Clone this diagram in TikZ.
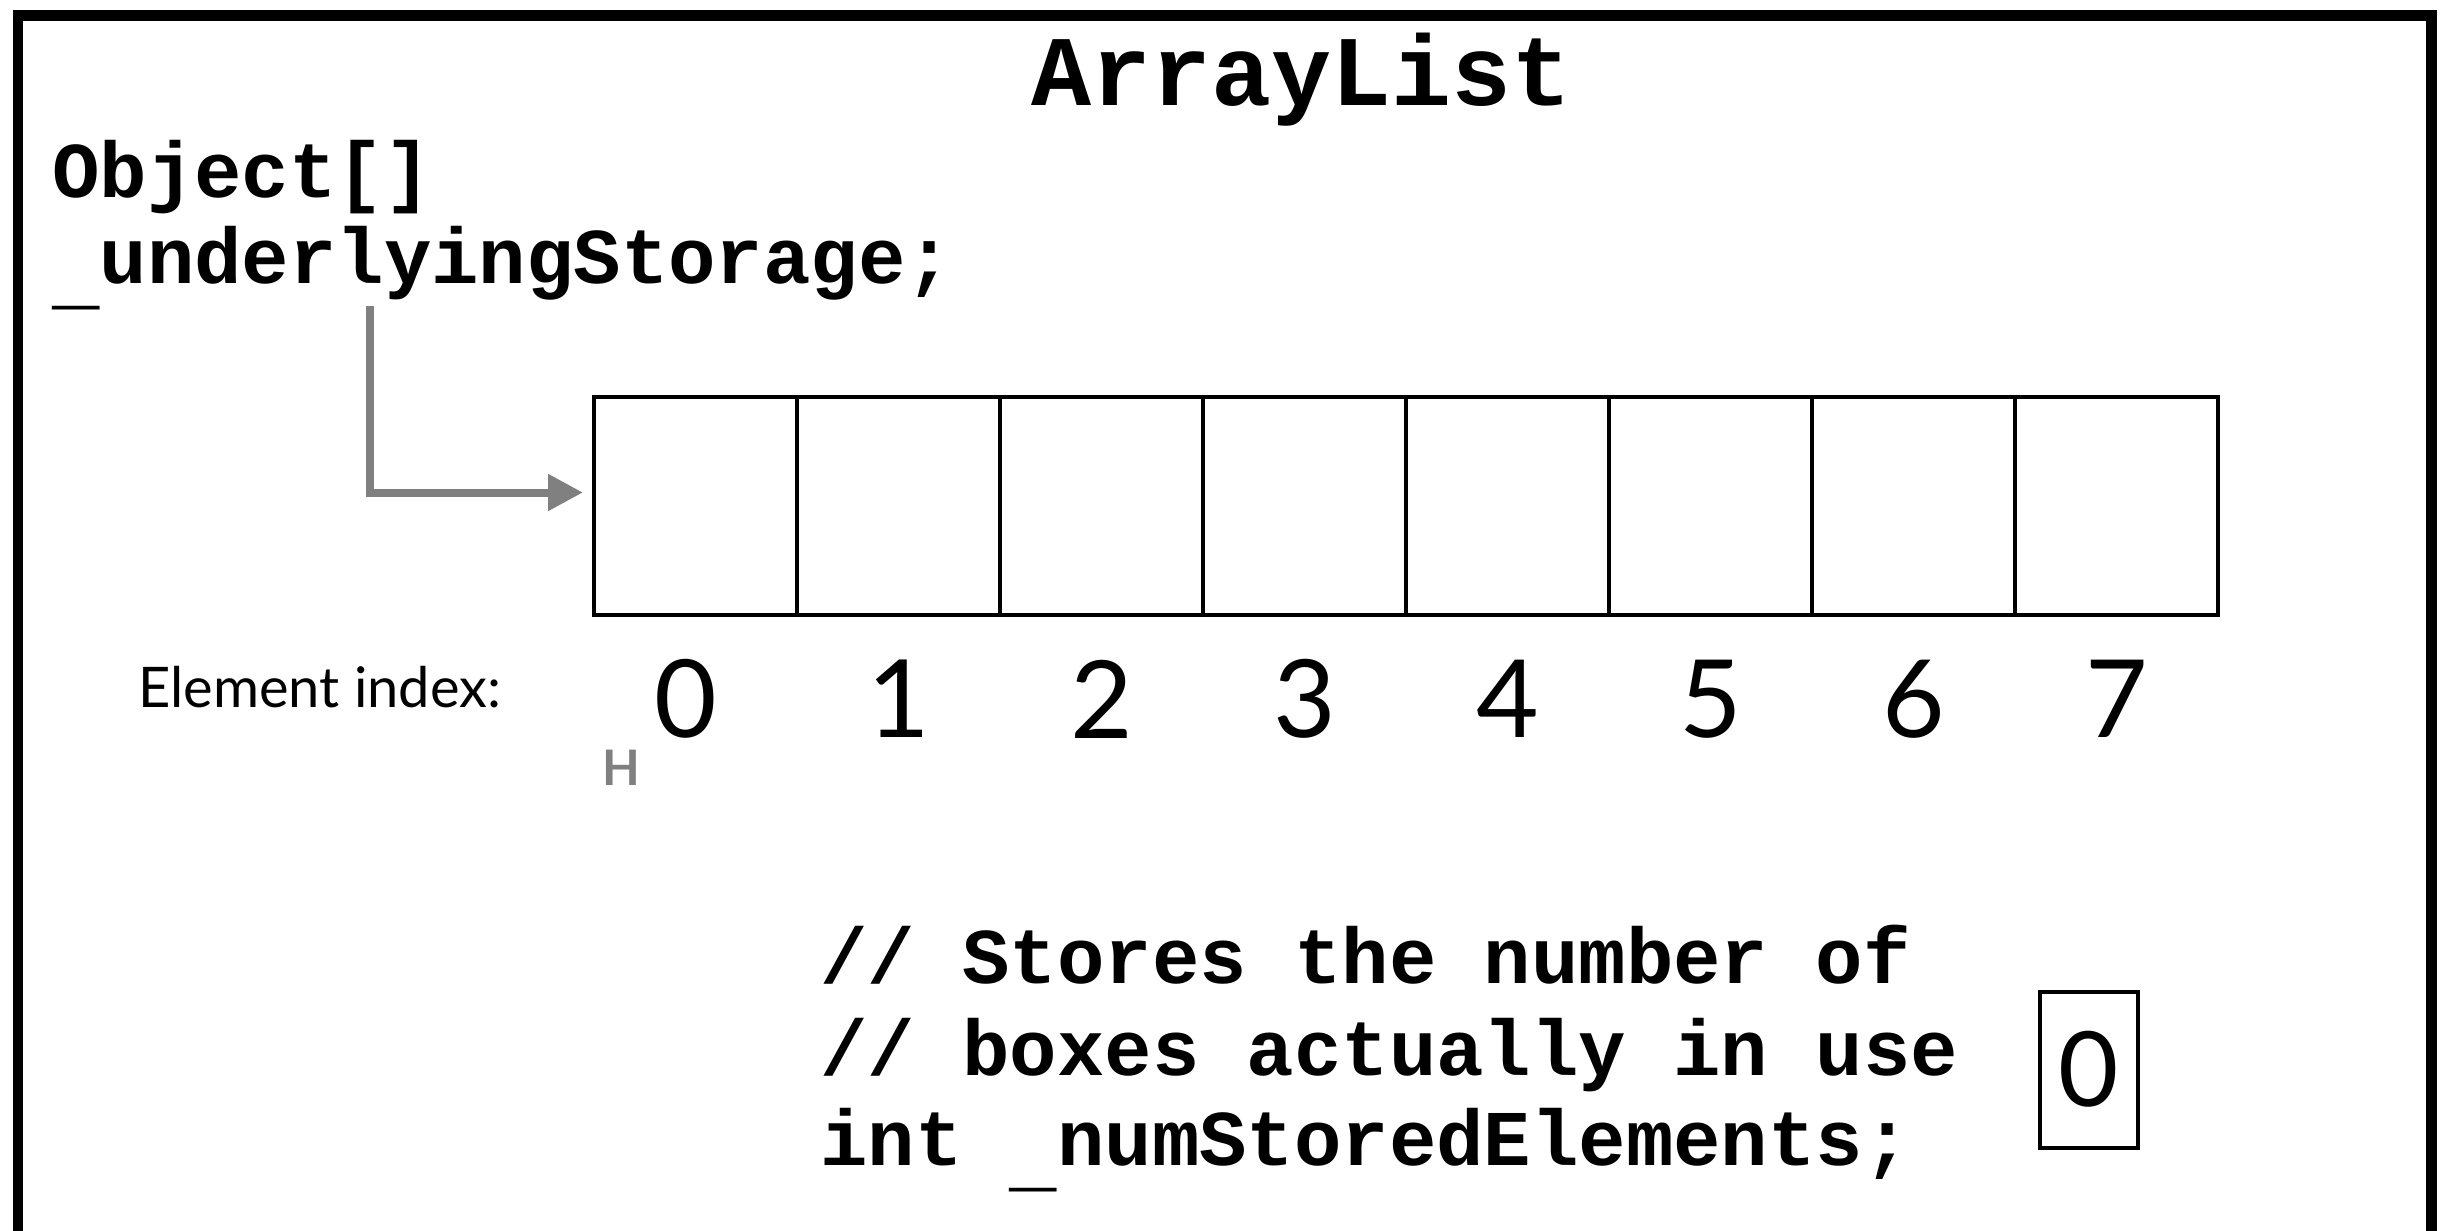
\documentclass[tikz,border=0pt]{standalone}
\usepackage{fontspec}
\usetikzlibrary{arrows.meta}
\newfontfamily\codefont{Liberation Mono}
\newfontfamily\gillfont{Lato}
\definecolor{arrowgray}{HTML}{808080}
\newcommand{\lowbar}{\raisebox{-18pt}{\_}}
\tikzset{
  codetext/.style={anchor=base west, inner sep=0pt, font=\codefont\bfseries\fontsize{79}{91}\selectfont},
  titletext/.style={anchor=base, inner sep=0pt, font=\codefont\bfseries\fontsize{100}{100}\selectfont},
  cellbox/.style={draw=black, line width=4pt, minimum width=203pt, minimum height=218pt, inner sep=0pt},
  digit/.style={inner sep=0pt, font=\gillfont\fontsize{108}{108}\selectfont},
  labeltext/.style={anchor=base west, inner sep=0pt, font=\gillfont\fontsize{56}{56}\selectfont},
  hmark/.style={inner sep=0pt, text=arrowgray, font=\gillfont\bfseries\fontsize{49}{49}\selectfont},
  countbox/.style={draw=black, line width=4pt, minimum width=97.7pt, minimum height=156pt, inner sep=0pt, font=\gillfont\fontsize{104}{104}\selectfont},
  pointer/.style={draw=arrowgray, line width=8pt, -{Triangle[length=35pt,width=35pt]}}
}
\begin{document}
\begin{tikzpicture}[x=1pt,y=-1pt]
\useasboundingbox (0,0) rectangle (2442,1231);
\fill[white] (0,0) rectangle (2442,1231);
% outer frame (open at the bottom)
\draw[line width=10.5pt] (18,1245) -- (18,15.3) -- (2431.7,15.3) -- (2431.7,1245);
% title
\node[titletext] (title) at (1302,106) {ArrayList};
% field declaration
\node[codetext] (objtype) at (52,197) {Object[]};
\node[codetext] (storage) at (52,283) {\lowbar underlyingStorage;};
% array cells
\foreach \i in {0,...,7} {
  \node[cellbox] (c\i) at ({695.5+203*\i},506) {};
}
\node[digit] (d0) at (686,699) {0};
\foreach \i in {1,...,7} {
  \node[digit] (d\i) at ({695.5+203*\i},699) {\i};
}
\node[labeltext] (idxlabel) at (138,707) {Element index:};
\node[hmark] (hmark) at (621,767.5) {H};
% pointer arrow
\coordinate (pstart) at (370,306);
\coordinate (pend) at (583,492.5);
\draw[pointer] (pstart) |- (pend);
% comment and counter
\node[codetext] (cm1) at (820,983) {// Stores the number of};
\node[codetext] (cm2) at (820,1075) {// boxes actually in use};
\node[codetext] (cm3) at (820,1165) {int \lowbar numStoredElements;};
\node[countbox] (count) at (2089,1069.7) {0};
\end{tikzpicture}
\end{document}
